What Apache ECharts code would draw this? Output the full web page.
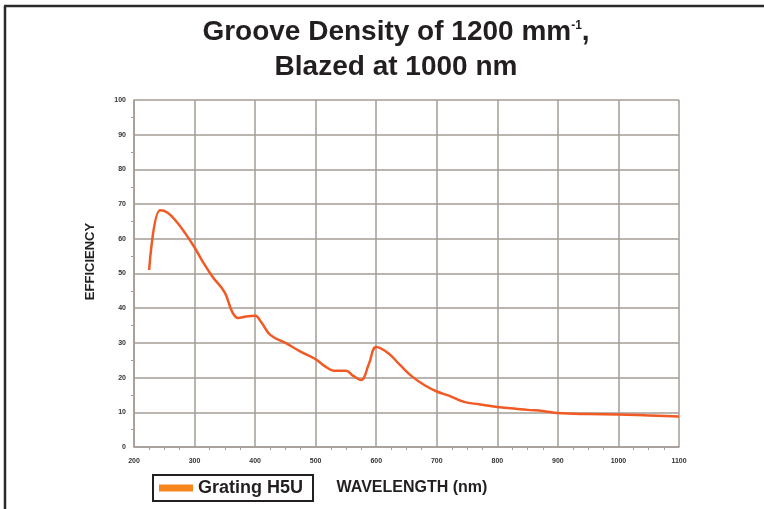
<!DOCTYPE html>
<html lang="en">
<head>
<meta charset="UTF-8"/>
<title>Grating H5U</title>
<script src="https://cdn.jsdelivr.net/npm/echarts@6/dist/echarts.min.js"></script>
<style>
  html, body { margin: 0; padding: 0; background: #fff; }
</style>
</head>
<body>
<div id="main" style="width: 764px;height: 509px;"></div>
<script type="text/javascript">
// wavelength (nm) and efficiency (%)
var wavelength = [225, 243, 255, 270, 285, 300, 315, 330, 350, 362, 372, 385, 400, 410, 425, 450, 475, 500, 515, 530, 550, 562, 575, 588, 600, 620, 640, 660, 680, 700, 720, 745, 770, 800, 850, 875, 900, 950, 1000, 1050, 1100];
var efficiency = [51, 68.2, 67.6, 65, 61.5, 57.5, 53, 49, 44.5, 39, 37.2, 37.6, 37.8, 36, 32.3, 30, 27.5, 25.3, 23.3, 22, 22, 20.5, 19.3, 24, 28.8, 27, 23.5, 20.2, 17.8, 16, 14.8, 13, 12.3, 11.5, 10.7, 10.4, 9.8, 9.5, 9.4, 9.1, 8.8];
var seriesName = 'Grating H5U';

var points = wavelength.map(function (w, i) { return [w, efficiency[i]]; });

var myChart = echarts.init(document.getElementById('main'));
var gridColor = '#a59c96';
var ink = '#231f20';
var labelFont = { color: '#333', fontSize: 7, fontWeight: 'bold', fontFamily: 'Liberation Sans' };

var option = {
  backgroundColor: '#fff',
  animation: false,
  title: {
    text: '{a|Groove Density of 1200 mm}{s|-1}{a|,}\n{a|Blazed at 1000 nm}',
    left: 391,
    textAlign: 'center',
    top: 10,
    textStyle: {
      rich: {
        a: { fontSize: 28, fontWeight: 'bold', color: ink, fontFamily: 'Liberation Sans', lineHeight: 35 },
        s: { fontSize: 12, fontWeight: 'bold', color: ink, fontFamily: 'Liberation Sans', verticalAlign: 'top', padding: [5, 0, 0, 0], lineHeight: 30 }
      }
    }
  },
  legend: {
    left: 153,
    top: 475,
    padding: [4, 10, 4, 6],
    borderColor: ink,
    borderWidth: 2,
    itemWidth: 34,
    itemHeight: 7,
    itemGap: 8,
    icon: 'rect',
    textStyle: { fontSize: 18, fontWeight: 'bold', color: ink, fontFamily: 'Liberation Sans' },
    data: [{ name: seriesName, itemStyle: { color: '#f7851f' } }]
  },
  grid: { left: 134, right: 85, top: 100, bottom: 62 },
  xAxis: {
    type: 'value',
    min: 200,
    max: 1100,
    interval: 100,
    name: 'WAVELENGTH (nm)',
    nameLocation: 'middle',
    nameGap: 33,
    nameTextStyle: { fontSize: 16, fontWeight: 'bold', color: ink, fontFamily: 'Liberation Sans', padding: [0, 0, 0, 11] },
    axisLine: { lineStyle: { color: gridColor, width: 1.5 } },
    axisTick: { show: false },
    minorTick: { show: true, splitNumber: 4, length: 3, lineStyle: { color: gridColor } },
    axisLabel: Object.assign({ margin: 11, formatter: function (v) { return String(v); } }, labelFont),
    splitLine: { lineStyle: { color: gridColor, width: 1.5 } }
  },
  yAxis: {
    type: 'value',
    min: 0,
    max: 100,
    interval: 10,
    name: 'EFFICIENCY',
    nameLocation: 'middle',
    nameRotate: 90,
    nameGap: 37,
    nameTextStyle: { fontSize: 13, fontWeight: 'bold', color: ink, fontFamily: 'Liberation Sans', padding: [0, 0, 0, 24] },
    axisLine: { show: true, lineStyle: { color: gridColor, width: 1.5 } },
    axisTick: { show: false },
    minorTick: { show: true, splitNumber: 2, length: 3, lineStyle: { color: gridColor } },
    axisLabel: Object.assign({ margin: 8 }, labelFont),
    splitLine: { lineStyle: { color: gridColor, width: 1.5 } }
  },
  graphic: [
    { type: 'line', shape: { x1: 5, y1: 6, x2: 5, y2: 509 }, style: { stroke: '#2b2b2b', lineWidth: 2.5 } },
    { type: 'line', shape: { x1: 4, y1: 6, x2: 764, y2: 6 }, style: { stroke: '#2b2b2b', lineWidth: 2.5 } }
  ],
  series: [
    {
      name: seriesName,
      type: 'line',
      smooth: 0.4,
      symbol: 'none',
      data: points,
      lineStyle: { color: '#f15a24', width: 2.5 },
      itemStyle: { color: '#f15a24' }
    }
  ]
};

myChart.setOption(option);
</script>
</body>
</html>
